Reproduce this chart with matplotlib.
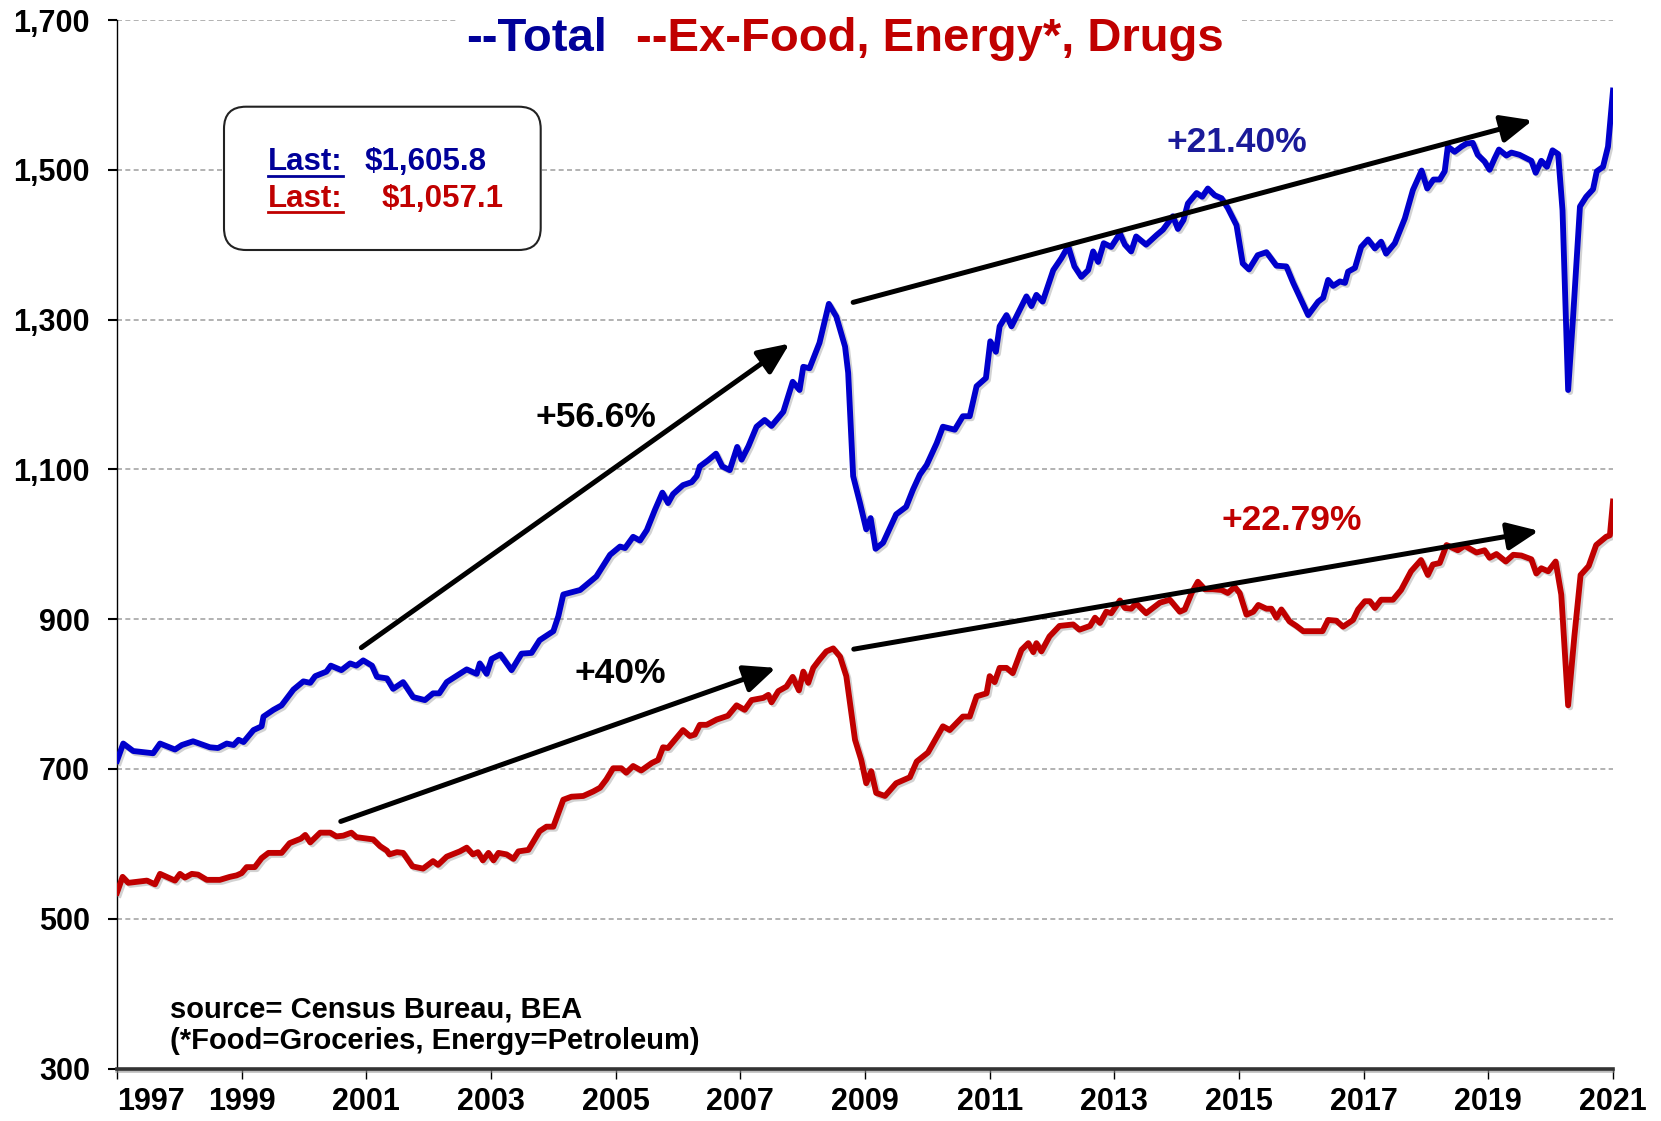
import matplotlib
matplotlib.use("Agg")
import matplotlib.pyplot as plt
import matplotlib.patheffects as pe
from matplotlib.lines import Line2D
from matplotlib.patches import FancyBboxPatch, Rectangle
from matplotlib.ticker import FuncFormatter
from matplotlib.transforms import IdentityTransform

plt.rcParams["font.family"] = ["Liberation Sans", "DejaVu Sans"]
plt.rcParams["font.weight"] = "bold"

# --- data (decimal year, $bn) ---
total_years = [
    1997.00, 1997.10, 1997.26, 1997.58, 1997.69, 1997.93, 1998.04, 1998.22, 1998.49, 1998.62,
    1998.76, 1998.87, 1998.95, 1999.03, 1999.19, 1999.32, 1999.35, 1999.51, 1999.64, 1999.83,
    1999.99, 2000.10, 2000.18, 2000.36, 2000.43, 2000.60, 2000.74, 2000.84, 2000.95, 2001.09,
    2001.17, 2001.33, 2001.43, 2001.59, 2001.75, 2001.94, 2002.07, 2002.17, 2002.29, 2002.61,
    2002.77, 2002.82, 2002.93, 2003.01, 2003.15, 2003.33, 2003.49, 2003.65, 2003.78, 2004.00,
    2004.08, 2004.16, 2004.43, 2004.56, 2004.69, 2004.91, 2005.07, 2005.15, 2005.28, 2005.39,
    2005.50, 2005.63, 2005.75, 2005.84, 2005.92, 2006.08, 2006.22, 2006.30, 2006.35, 2006.48,
    2006.61, 2006.71, 2006.83, 2006.95, 2007.02, 2007.13, 2007.26, 2007.39, 2007.50, 2007.69,
    2007.84, 2007.95, 2008.01, 2008.11, 2008.27, 2008.42, 2008.54, 2008.68, 2008.73, 2008.81,
    2008.92, 2009.02, 2009.09, 2009.17, 2009.29, 2009.50, 2009.66, 2009.77, 2009.88, 2009.99,
    2010.15, 2010.25, 2010.44, 2010.57, 2010.68, 2010.79, 2010.94, 2011.01, 2011.10, 2011.16,
    2011.27, 2011.35, 2011.59, 2011.67, 2011.75, 2011.85, 2012.02, 2012.15, 2012.26, 2012.36,
    2012.47, 2012.58, 2012.66, 2012.74, 2012.83, 2012.95, 2013.09, 2013.17, 2013.27, 2013.35,
    2013.51, 2013.68, 2013.78, 2013.94, 2014.02, 2014.11, 2014.18, 2014.32, 2014.41, 2014.50,
    2014.61, 2014.72, 2014.82, 2014.96, 2015.06, 2015.16, 2015.30, 2015.44, 2015.60, 2015.76,
    2015.87, 2015.97, 2016.11, 2016.27, 2016.35, 2016.43, 2016.51, 2016.62, 2016.70, 2016.75,
    2016.86, 2016.96, 2017.07, 2017.18, 2017.28, 2017.36, 2017.50, 2017.66, 2017.79, 2017.93,
    2018.02, 2018.12, 2018.22, 2018.30, 2018.35, 2018.46, 2018.57, 2018.65, 2018.75, 2018.83,
    2018.94, 2019.02, 2019.10, 2019.17, 2019.29, 2019.37, 2019.50, 2019.69, 2019.76, 2019.85,
    2019.94, 2020.03, 2020.12, 2020.19, 2020.28, 2020.36, 2020.47, 2020.57, 2020.68, 2020.74,
    2020.84, 2020.92, 2021.00,
]
total_values = [
    711, 734, 724, 721, 734, 726, 732, 737, 729, 728,
    734, 732, 739, 736, 752, 757, 770, 779, 785, 806,
    817, 815, 824, 830, 838, 832, 841, 838, 845, 838,
    823, 821, 807, 816, 796, 792, 801, 801, 816, 833,
    827, 841, 827, 847, 853, 832, 854, 855, 872, 884,
    904, 933, 939, 948, 957, 986, 997, 995, 1010, 1005,
    1019, 1046, 1069, 1055, 1067, 1079, 1083, 1091, 1104, 1112,
    1121, 1104, 1099, 1130, 1113, 1131, 1157, 1166, 1158, 1177,
    1217, 1206, 1237, 1235, 1269, 1321, 1304, 1264, 1229, 1091,
    1055, 1020, 1035, 994, 1002, 1040, 1050, 1073, 1093, 1106,
    1135, 1157, 1153, 1171, 1171, 1211, 1222, 1271, 1257, 1291,
    1306, 1291, 1331, 1318, 1333, 1324, 1366, 1382, 1398, 1371,
    1357, 1366, 1391, 1377, 1402, 1397, 1415, 1400, 1391, 1411,
    1400, 1413, 1420, 1438, 1421, 1433, 1455, 1469, 1464, 1475,
    1466, 1462, 1449, 1426, 1375, 1367, 1386, 1390, 1372, 1371,
    1349, 1331, 1306, 1324, 1329, 1353, 1345, 1351, 1349, 1364,
    1369, 1397, 1407, 1395, 1404, 1388, 1402, 1435, 1473, 1499,
    1475, 1487, 1487, 1498, 1531, 1524, 1531, 1535, 1536, 1520,
    1511, 1500, 1515, 1527, 1519, 1523, 1520, 1512, 1496, 1512,
    1504, 1526, 1521, 1446, 1206, 1304, 1451, 1464, 1474, 1498,
    1504, 1531, 1605.8,
]

core_years = [
    1997.00, 1997.09, 1997.18, 1997.48, 1997.61, 1997.69, 1997.93, 1998.01, 1998.09, 1998.20,
    1998.30, 1998.44, 1998.65, 1998.81, 1998.92, 1999.00, 1999.08, 1999.21, 1999.32, 1999.43,
    1999.64, 1999.77, 1999.95, 2000.02, 2000.10, 2000.26, 2000.42, 2000.52, 2000.63, 2000.76,
    2000.84, 2001.11, 2001.22, 2001.33, 2001.37, 2001.49, 2001.59, 2001.74, 2001.91, 2002.07,
    2002.15, 2002.29, 2002.50, 2002.61, 2002.71, 2002.79, 2002.87, 2002.96, 2003.04, 2003.12,
    2003.25, 2003.36, 2003.44, 2003.60, 2003.78, 2003.89, 2004.00, 2004.16, 2004.29, 2004.48,
    2004.64, 2004.75, 2004.85, 2004.96, 2005.09, 2005.17, 2005.28, 2005.41, 2005.58, 2005.68,
    2005.76, 2005.84, 2006.08, 2006.19, 2006.27, 2006.35, 2006.46, 2006.62, 2006.80, 2006.94,
    2007.07, 2007.18, 2007.37, 2007.45, 2007.50, 2007.61, 2007.74, 2007.84, 2007.94, 2008.01,
    2008.09, 2008.17, 2008.27, 2008.38, 2008.49, 2008.60, 2008.70, 2008.84, 2008.94, 2009.02,
    2009.10, 2009.18, 2009.32, 2009.50, 2009.72, 2009.83, 2010.01, 2010.25, 2010.36, 2010.57,
    2010.68, 2010.79, 2010.95, 2011.00, 2011.08, 2011.16, 2011.27, 2011.37, 2011.51, 2011.62,
    2011.70, 2011.75, 2011.83, 2011.96, 2012.12, 2012.34, 2012.44, 2012.61, 2012.69, 2012.77,
    2012.87, 2012.95, 2013.09, 2013.17, 2013.27, 2013.35, 2013.51, 2013.73, 2013.89, 2014.05,
    2014.13, 2014.24, 2014.34, 2014.45, 2014.58, 2014.72, 2014.82, 2014.93, 2015.01, 2015.12,
    2015.23, 2015.31, 2015.44, 2015.52, 2015.60, 2015.68, 2015.81, 2015.92, 2016.03, 2016.19,
    2016.34, 2016.43, 2016.56, 2016.67, 2016.83, 2016.91, 2017.02, 2017.10, 2017.18, 2017.28,
    2017.47, 2017.60, 2017.76, 2017.92, 2018.03, 2018.11, 2018.22, 2018.33, 2018.51, 2018.62,
    2018.81, 2018.94, 2019.02, 2019.13, 2019.28, 2019.40, 2019.53, 2019.69, 2019.77, 2019.85,
    2019.96, 2020.08, 2020.17, 2020.28, 2020.38, 2020.48, 2020.61, 2020.73, 2020.89, 2020.95,
    2021.00,
]
core_values = [
    535, 556, 548, 551, 546, 560, 551, 560, 555, 560,
    559, 552, 552, 556, 558, 561, 569, 569, 581, 588,
    588, 601, 607, 612, 602, 615, 615, 610, 611, 615,
    609, 606, 597, 591, 586, 589, 588, 570, 567, 577,
    572, 583, 590, 595, 586, 589, 578, 588, 578, 588,
    586, 580, 590, 592, 617, 623, 623, 659, 663, 664,
    670, 675, 686, 701, 701, 695, 704, 698, 708, 712,
    729, 728, 752, 744, 746, 759, 759, 766, 771, 785,
    779, 792, 795, 799, 789, 804, 810, 823, 805, 830,
    815, 835, 846, 857, 861, 850, 824, 739, 712, 681,
    697, 668, 664, 681, 689, 710, 722, 757, 752, 770,
    770, 797, 801, 824, 816, 835, 835, 828, 859, 868,
    856, 868, 857, 877, 891, 893, 886, 891, 902, 895,
    910, 908, 925, 915, 914, 921, 908, 922, 926, 910,
    913, 935, 950, 940, 940, 939, 935, 943, 935, 906,
    910, 919, 914, 914, 902, 913, 897, 891, 884, 884,
    884, 899, 898, 890, 899, 913, 924, 924, 915, 926,
    926, 939, 964, 979, 959, 973, 975, 999, 992, 998,
    989, 992, 982, 987, 977, 986, 985, 980, 961, 968,
    964, 977, 933, 785, 877, 959, 971, 999, 1010, 1012,
    1057.1,
]

# trend arrows: (start year, start value, end year, end value)
arrow_total = [(2000.92, 862, 2007.79, 1268), (2008.81, 1323, 2019.71, 1566)]
arrow_core = [(2000.59, 630, 2007.57, 835), (2008.82, 860, 2019.81, 1018)]

# percent labels: (text, x year, baseline value, colour)
pct_labels = [
    ("+56.6%", 2004.68, 1157, "black"),
    ("+40%", 2005.08, 815, "black"),
    ("+21.40%", 2014.96, 1524, "#1A1A99"),
    ("+22.79%", 2015.85, 1019, "#C00000"),
]

x_ticks = list(range(1997, 2022, 2))
y_ticks = list(range(300, 1701, 200))

BLUE = "#0000CC"
NAVY = "#000099"
RED = "#C00000"

W, H = 1661, 1121
fig = plt.figure(figsize=(W / 100, H / 100), dpi=100)
ax = fig.add_axes([117 / W, 1 - 1068.6 / H, (1613 - 117) / W, (1068.6 - 20) / H])

shadow = [pe.SimpleLineShadow(offset=(1.5, -1.5), shadow_color="#808080", alpha=0.35), pe.Normal()]
ax.plot(core_years, core_values, color=RED, lw=4.2, solid_joinstyle="round", path_effects=shadow, zorder=3)
ax.plot(total_years, total_values, color=BLUE, lw=4.2, solid_joinstyle="round", path_effects=shadow, zorder=3)

ax.set_xlim(1997, 2021)
ax.set_ylim(300, 1700)
ax.set_xticks(x_ticks)
ax.set_yticks(y_ticks)
ax.yaxis.set_major_formatter(FuncFormatter(lambda v, p: f"{v:,.0f}"))
ax.grid(axis="y", color="#A6A6A6", linestyle=(0, (3, 2)), linewidth=1.2)
ax.set_axisbelow(True)

for side in ("top", "right"):
    ax.spines[side].set_visible(False)
ax.spines["left"].set_linewidth(1.0)
ax.spines["bottom"].set_linewidth(2.6)
ax.spines["bottom"].set_color("#333333")
ax.spines["bottom"].set_path_effects(
    [pe.SimpleLineShadow(offset=(0, -2), shadow_color="#909090", alpha=0.6), pe.Normal()]
)

ax.tick_params(axis="y", direction="out", length=6.5, width=1.5, pad=13, labelsize=22)
ax.tick_params(axis="x", direction="out", length=7.5, width=1.0, pad=6, labelsize=22)
for lbl in ax.get_xticklabels() + ax.get_yticklabels():
    lbl.set_fontweight("bold")
# first year label sits right of the axis, as in the original
ax.get_xticklabels()[0].set_horizontalalignment("left")

for x0, y0, x1, y1 in arrow_total + arrow_core:
    ax.annotate(
        "",
        xy=(x1, y1),
        xytext=(x0, y0),
        arrowprops=dict(
            arrowstyle="-|>,head_length=0.5,head_width=0.22",
            mutation_scale=38,
            lw=3.6,
            color="black",
            shrinkA=0,
            shrinkB=0,
        ),
        zorder=4,
    )

for text, x, y, color in pct_labels:
    ax.text(x, y, text, color=color, fontsize=25.5, fontweight="bold", ha="center", va="baseline", zorder=5)

# source note
fig.text(169.5 / W, 1 - 1017 / H, "source= Census Bureau, BEA", fontsize=21, fontweight="bold")
fig.text(169.5 / W, 1 - 1049 / H, "(*Food=Groceries, Energy=Petroleum)", fontsize=21, fontweight="bold")

# legend-style title across the top (white background cuts the top gridline)
fig.add_artist(Rectangle((458, H - 62), 1241 - 458, 52, transform=IdentityTransform(),
                         facecolor="white", edgecolor="none", zorder=5))
fig.text(466 / W, 1 - 51 / H, "--Total", color=NAVY, fontsize=34, fontweight="bold", zorder=6)
fig.text(636 / W, 1 - 51 / H, "--Ex-Food, Energy*, Drugs", color=RED, fontsize=34, fontweight="bold", zorder=6)

# "Last" box
fig.add_artist(FancyBboxPatch((224, H - 250), 316.7, 143.3, boxstyle="round,pad=0,rounding_size=22",
                              transform=IdentityTransform(), facecolor="white",
                              edgecolor="#222222", lw=1.5, zorder=5))
last_blue = fig.text(268.3 / W, 1 - 170 / H, "Last:", color=NAVY, fontsize=22.5, fontweight="bold", zorder=6)
fig.text(365 / W, 1 - 170 / H, "$1,605.8", color=NAVY, fontsize=22.5, fontweight="bold", zorder=6)
last_red = fig.text(268.3 / W, 1 - 206.7 / H, "Last:", color=RED, fontsize=22.5, fontweight="bold", zorder=6)
fig.text(381.7 / W, 1 - 206.7 / H, "$1,057.1", color=RED, fontsize=22.5, fontweight="bold", zorder=6)

fig.canvas.draw()
renderer = fig.canvas.get_renderer()
for t, y_under in ((last_blue, 176), (last_red, 211.7)):
    bb = t.get_window_extent(renderer)
    fig.add_artist(Line2D([bb.x0, bb.x1], [H - y_under, H - y_under], transform=IdentityTransform(),
                          color=t.get_color(), lw=2.0, zorder=6))

fig.savefig("out.png", dpi=100)
